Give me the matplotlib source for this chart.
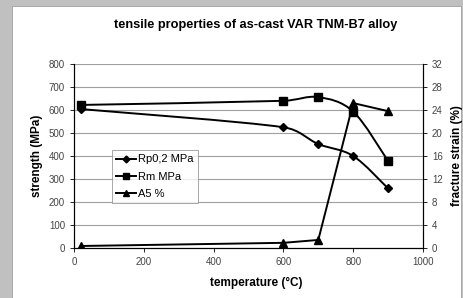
import matplotlib
matplotlib.use("Agg")
import matplotlib.pyplot as plt
from matplotlib.path import Path
from matplotlib.patches import PathPatch, Rectangle
from matplotlib.lines import Line2D
import numpy as np

plt.rcParams['font.family'] = ['Liberation Sans', 'DejaVu Sans']

temperature = [20, 600, 700, 800, 900]
rp02 = [604, 525, 452, 400, 259]
rm = [622, 640, 656, 593, 378]
a5 = [0.35, 0.9, 1.4, 25.2, 23.8]

title = "tensile properties of as-cast VAR TNM-B7 alloy"
xlabel = "temperature (\u00b0C)"
ylabel_left = "strength (MPa)"
ylabel_right = "fracture strain (%)"
labels = ["Rp0,2 MPa", "Rm MPa", "A5 %"]


def smooth_path(ax, xs, ys, k=0.45):
    # Catmull-Rom style smoothing in display space with clamped handles
    trans = ax.transData
    pts = trans.transform(np.column_stack([xs, ys]).astype(float))
    n = len(pts)

    def clamp(h, seg):
        L = np.hypot(*h)
        lim = k * seg
        return h * (lim / L) if L > lim else h

    verts = [pts[0]]
    codes = [Path.MOVETO]
    for i in range(n - 1):
        p0 = pts[i - 1] if i > 0 else pts[i]
        p1 = pts[i]
        p2 = pts[i + 1]
        p3 = pts[i + 2] if i + 2 < n else pts[i + 1]
        seg = np.hypot(*(p2 - p1))
        c1 = p1 + clamp((p2 - p0) / 6.0, seg)
        c2 = p2 - clamp((p3 - p1) / 6.0, seg)
        verts += [c1, c2, p2]
        codes += [Path.CURVE4] * 3
    verts = trans.inverted().transform(np.array(verts))
    return Path(verts, codes)


fig = plt.figure(figsize=(4.64, 2.98), dpi=100)
fig.patch.set_facecolor('#c0c0c0')
fig.patches.append(Rectangle((12 / 464, 0), 1 - 12 / 464 - 3 / 464, 1 - 6 / 298,
                             transform=fig.transFigure, facecolor='white',
                             edgecolor='#a0a0a0', linewidth=0.6, zorder=-10))

L, R, T, B = 74, 423, 64, 248
ax = fig.add_axes([L / 464, 1 - B / 298, (R - L) / 464, (B - T) / 298])
ax2 = ax.twinx()

ax.set_xlim(0, 1000)
ax.set_ylim(0, 800)
ax2.set_ylim(0, 32)
ax.set_xticks(range(0, 1001, 200))
ax.set_yticks(range(0, 801, 100))
ax2.set_yticks(range(0, 33, 4))

ax.yaxis.grid(True, color='#a0a0a0', linewidth=0.8)
ax.set_axisbelow(True)

for a in (ax, ax2):
    a.spines['top'].set_visible(False)
    a.spines['left'].set_linewidth(0.8)
    a.spines['right'].set_linewidth(0.8)
    a.spines['bottom'].set_linewidth(0.8)
    a.tick_params(labelsize=7, colors='black', labelcolor='#444444',
                  length=3, width=0.6, direction='out')

lw = 1.4
ax.add_patch(PathPatch(smooth_path(ax, temperature, rp02), fill=False, edgecolor='black', lw=lw, zorder=3))
ax.plot(temperature, rp02, linestyle='none', marker='D', markersize=4, color='black', zorder=4)
ax.add_patch(PathPatch(smooth_path(ax, temperature, rm), fill=False, edgecolor='black', lw=lw, zorder=3))
ax.plot(temperature, rm, linestyle='none', marker='s', markersize=5.5, color='black', zorder=4)
ax2.plot(temperature, a5, linestyle='-', lw=lw, marker='^', markersize=6, color='black', zorder=4)

ax.set_xlabel(xlabel, fontsize=8.5, fontweight='bold', labelpad=6)
ax.xaxis.set_label_coords((256 - L) / (R - L), -0.155)
ax.set_ylabel(ylabel_left, fontsize=8.5, fontweight='bold', labelpad=4)
ax2.set_ylabel(ylabel_right, fontsize=8.5, fontweight='bold', labelpad=6)
fig.text(256 / 464, 1 - 25 / 298, title, fontsize=9.2, fontweight='bold', ha='center', va='center')

handles = [Line2D([], [], color='black', lw=lw, marker='D', markersize=3.5),
           Line2D([], [], color='black', lw=lw, marker='s', markersize=4.5),
           Line2D([], [], color='black', lw=lw, marker='^', markersize=5)]
leg = ax2.legend(handles, labels, loc='upper left',
                 bbox_to_anchor=((112 - L) / (R - L), 1 - (150 - T) / (B - T)),
                 fontsize=8, frameon=True, fancybox=False, handlelength=1.8,
                 handletextpad=0.1, borderpad=0.4, labelspacing=0.65,
                 borderaxespad=0)
leg.get_frame().set_edgecolor('#808080')
leg.get_frame().set_linewidth(0.6)

fig.savefig("out.png", dpi=100, facecolor=fig.get_facecolor())
